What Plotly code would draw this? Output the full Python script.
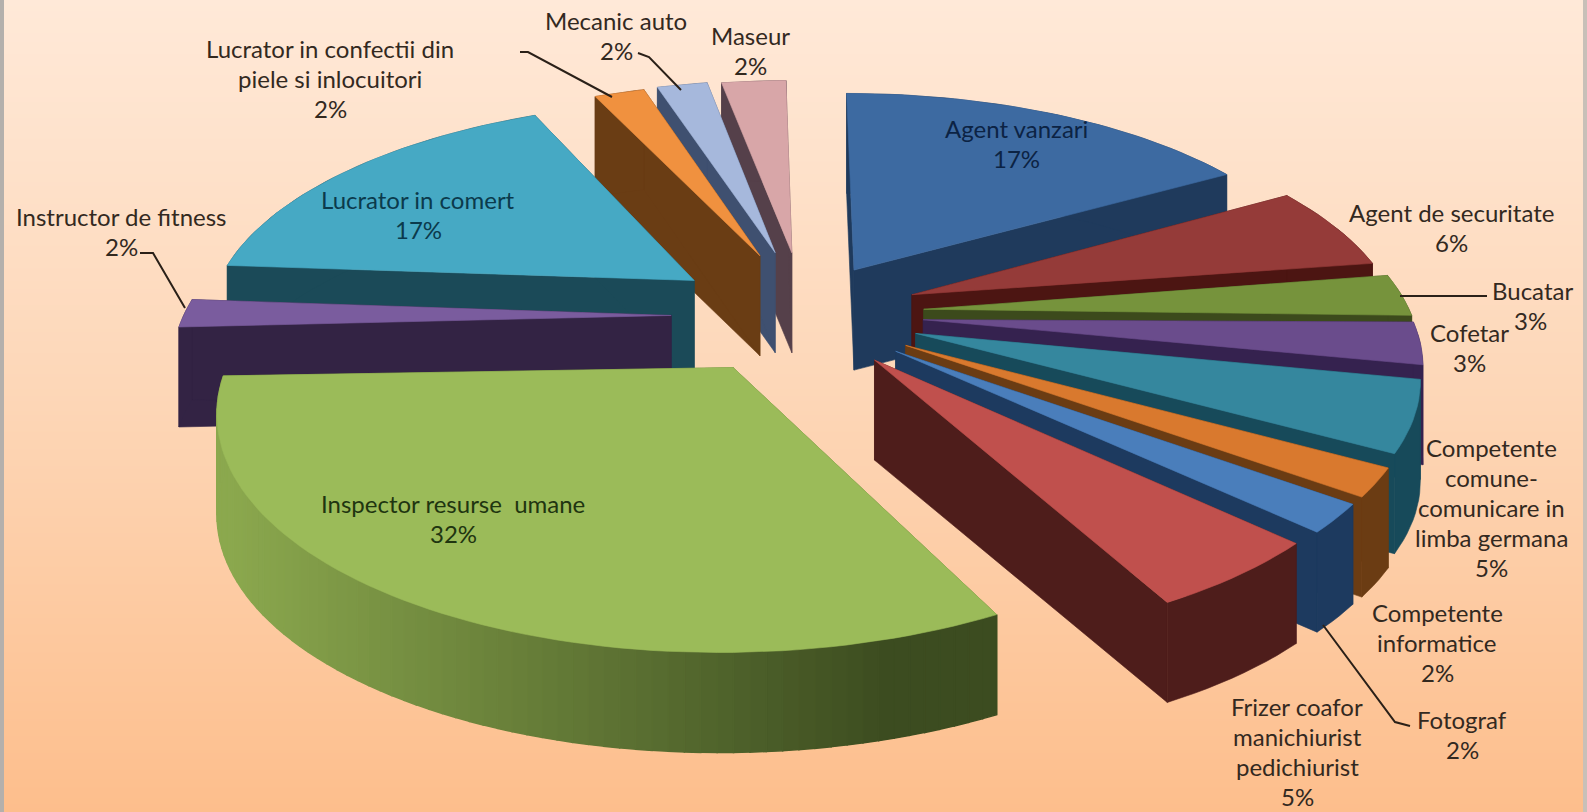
import numpy as np
import plotly.graph_objects as go

# ---- data ----
categories = ["Agent vanzari", "Agent de securitate", "Bucatar", "Cofetar",
              "Competente comune-comunicare in limba germana", "Competente informatice",
              "Fotograf", "Frizer coafor manichiurist pedichiurist", "Inspector resurse umane",
              "Instructor de fitness", "Lucrator in comert",
              "Lucrator in confectii din piele si inlocuitori", "Mecanic auto", "Maseur"]
values = [17, 6, 3, 3, 5, 2, 2, 5, 32, 2, 17, 2, 2, 2]

# ---- styles and layout (not data) ----
W, H = 1587, 812
top_colors = ["#3d6aa1", "#953b39", "#76933c", "#6a4c8c", "#35879e", "#d9792e", "#4a7ebb",
              "#c0504d", "#9bbb59", "#7a5c9e", "#46a9c4", "#f0913f", "#a6b8dc", "#d8a6a8"]
wall_colors = ["#1f3a5c", "#4c1512", "#3c4a1c", "#35224f", "#174a5a", "#6b3c13", "#1d3a5f",
               "#4e1d1b", "#5f7a33", "#332344", "#1b4a58", "#6a3d14", "#3f5070", "#55404a"]
pulls = [.225, .245, .255, .255, .255, .262, .262, .263, .282, .265, .265, .278, .285, .28]
pull_nudge_deg = [0, 0, 0, 0, 0, 0, 0, 0, -4.5, -8, -5, 0, 0, 0]
rotation_deg = [-1.5, -1.5, -2.0, -3.0, -3.0, -3.0, -3.0, -3.0, -3.0, -3.0, -3.0, -3.0, -3.0, -3.0]
start_nudge_deg = [1.5] + [0] * 7 + [0.7] + [0] * 5
end_nudge_deg = [0] * 8 + [1.0] + [0] * 4 + [2.0]
cx, cy, R, tilt, persp, wall_h = 800.0, 311.0, 486.0, 0.448, 0.163, 100.0

label_lines = [
    (["Agent vanzari"], 1016, 128, "#0c2344"),
    (["Agent de securitate"], 1451, 212, "#33291f"),
    (["Bucatar"], 1532, 290, "#33291f"),
    (["Cofetar"], 1469, 332, "#33291f"),
    (["Competente", "comune-", "comunicare in", "limba germana"], 1491, 447, "#33291f"),
    (["Competente", "informatice"], 1437, 612, "#33291f"),
    (["Fotograf"], 1462, 719, "#33291f"),
    (["Frizer coafor", "manichiurist", "pedichiurist"], 1297, 706, "#33291f"),
    (["Inspector resurse  umane"], 453, 503, "#1f3510"),
    (["Instructor de fitness"], 121, 216, "#33291f"),
    (["Lucrator in comert"], 418, 199, "#0b3a4c"),
    (["Lucrator in confectii din", "piele si inlocuitori"], 330, 48, "#33291f"),
    (["Mecanic auto"], 616, 20, "#33291f"),
    (["Maseur"], 750, 35, "#33291f"),
]
leaders = [
    "M520,52 L528,52 L612,97",
    "M638,53 L649,57 L681,90",
    "M140,253 L153,253 L185,308",
    "M1400,296 L1487,296",
    "M1323,625 L1395,722 L1410,726",
]
line_h = 30.0


def project(x, y, z=0.0):
    x, y = np.asarray(x, float), np.asarray(y, float)
    s = 1.0 / (1.0 + persp * y)
    return cx + R * x * s, cy - R * tilt * y * s + wall_h * z


def poly(fig, xs, ys, color, lw=0.6):
    fig.add_trace(go.Scatter(x=xs, y=ys, mode="lines", fill="toself", fillcolor=color,
                             line=dict(color=color, width=lw), hoverinfo="skip",
                             showlegend=False))


fig = go.Figure()
# background gradient
fig.add_trace(go.Heatmap(x=[0, W], y=[0, H / 2, H], z=[[0, 0], [0.52, 0.52], [1, 1]],
                         zsmooth="best", showscale=False, hoverinfo="skip",
                         colorscale=[[0, "#ffe9d8"], [0.52, "#fdd6b6"], [1, "#fdbe8c"]]))

fractions = np.array(values, float) / sum(values)
ends = np.cumsum(fractions) * 2 * np.pi
starts = ends - fractions * 2 * np.pi
mids = (starts + ends) / 2
order = np.argsort(-np.cos(mids))

for i in order:
    n = max(int(fractions[i] * 240), 6)
    rot = np.radians(rotation_deg[i])
    th = np.linspace(starts[i] + rot + np.radians(start_nudge_deg[i]),
                     ends[i] + rot + np.radians(end_nudge_deg[i]), n)
    pa = mids[i] + np.radians(pull_nudge_deg[i])
    ox, oy = pulls[i] * np.sin(pa), pulls[i] * np.cos(pa)
    rx, ry = ox + np.sin(th), oy + np.cos(th)
    # top-face outline
    mx = np.r_[ox, rx, ox]
    my = np.r_[oy, ry, oy]
    sx0, sy0 = project(mx, my, 0)
    sx1, sy1 = project(mx, my, 1)
    # radial walls
    for a, b in ((0, 1), (-2, -1)):
        poly(fig, [sx0[a], sx0[b], sx1[b], sx1[a], sx0[a]],
             [sy0[a], sy0[b], sy1[b], sy1[a], sy0[a]], wall_colors[i])
    # outer wall
    ax0, ay0 = project(rx, ry, 0)
    ax1, ay1 = project(rx, ry, 1)
    if categories[i] == "Inspector resurse umane":
        lo, hi = np.array([0x8b, 0xa8, 0x4e]), np.array([0x3c, 0x4c, 0x20])
        for k in range(n - 1):
            t = np.clip((ax0[k] - 235) / (900 - 235), 0, 1)
            c = lo + (hi - lo) * t
            poly(fig, [ax0[k], ax0[k + 1], ax1[k + 1], ax1[k], ax0[k]],
                 [ay0[k], ay0[k + 1], ay1[k + 1], ay1[k], ay0[k]],
                 f"rgb({int(c[0])},{int(c[1])},{int(c[2])})", lw=1.5)
    else:
        poly(fig, np.r_[ax0, ax1[::-1], ax0[0]], np.r_[ay0, ay1[::-1], ay0[0]], wall_colors[i])
    # top face
    poly(fig, sx0, sy0, top_colors[i])

annotations = []
pct_offset_x = {"Bucatar": -2}
for v, (lines, x, y, col) in zip(values, label_lines):
    rows = lines + [f"{v}%"]
    for j, t in enumerate(rows):
        dx = pct_offset_x.get(lines[0], 0) if j == len(rows) - 1 else 0
        annotations.append(dict(x=x + dx, y=y + j * line_h, text=t, showarrow=False,
                                xanchor="center", yanchor="middle",
                                font=dict(family="Lato, Carlito, sans-serif", size=24, color=col)))

shapes = [dict(type="path", path=p, line=dict(color="#2a2018", width=2), layer="above")
          for p in leaders]
shapes += [dict(type="rect", x0=0, x1=4, y0=0, y1=H, fillcolor="#b4b0ac", line_width=0, layer="above"),
           dict(type="rect", x0=W - 4, x1=W, y0=0, y1=H, fillcolor="#c8c0b8", line_width=0, layer="above")]

fig.update_layout(width=W, height=H, margin=dict(l=0, r=0, t=0, b=0),
                  paper_bgcolor="#fdd6b6", plot_bgcolor="rgba(0,0,0,0)",
                  xaxis=dict(range=[0, W], visible=False, fixedrange=True),
                  yaxis=dict(range=[H, 0], visible=False, fixedrange=True),
                  annotations=annotations, shapes=shapes, showlegend=False)
fig.write_html("out.html", config={"displayModeBar": False},
               post_script="document.body.style.margin='0';")
